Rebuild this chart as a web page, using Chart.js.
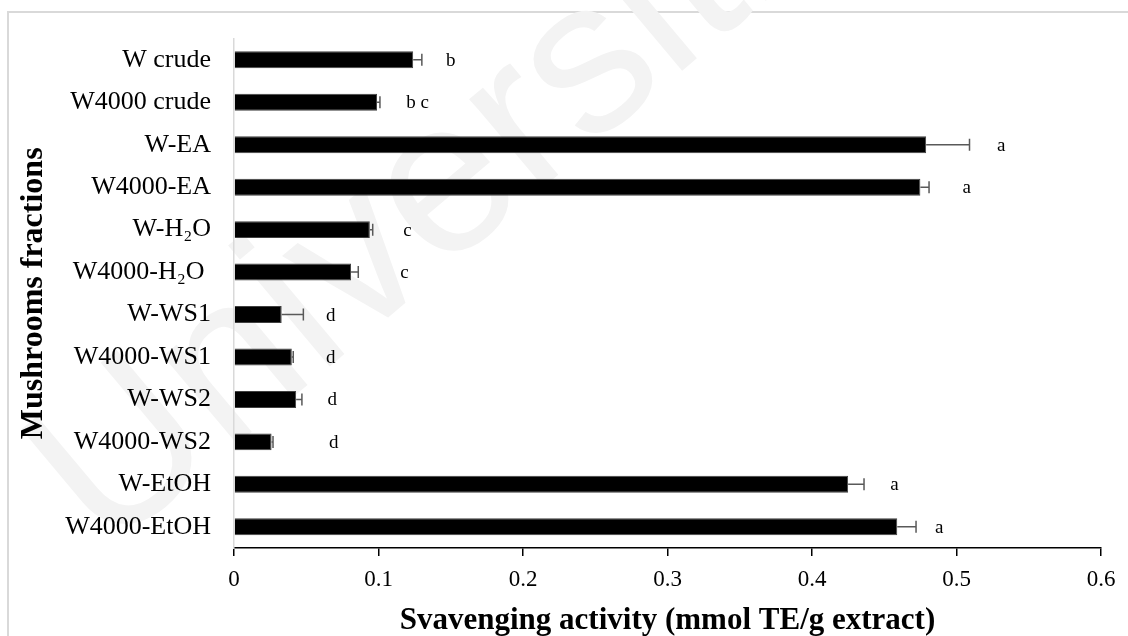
<!DOCTYPE html>
<html>
<head>
<meta charset="utf-8">
<script src="https://cdn.jsdelivr.net/npm/chart.js@4.4.1/dist/chart.umd.min.js"></script>
<style>
  html, body { margin: 0; padding: 0; background: #ffffff; }
  canvas { display: block; }
</style>
</head>
<body>
<canvas id="chart" width="1128" height="636"></canvas>
<script>
// Fractions, in the order they are listed on the vertical axis
const fractions = ['W crude', 'W4000 crude', 'W-EA', 'W4000-EA', 'W-H\u2082O', 'W4000-H\u2082O ',
                   'W-WS1', 'W4000-WS1', 'W-WS2', 'W4000-WS2', 'W-EtOH', 'W4000-EtOH'];
// Scavenging activity, mmol TE/g extract
const activity = [0.124, 0.099, 0.479, 0.475, 0.094, 0.081, 0.033, 0.040, 0.043, 0.026, 0.425, 0.459];
// Standard deviation of each mean
const deviation = [0.006, 0.002, 0.030, 0.006, 0.002, 0.005, 0.015, 0.001, 0.004, 0.001, 0.011, 0.013];
// Significance groups
const groups = ['b', 'b c', 'a', 'a', 'c', 'c', 'd', 'd', 'd', 'd', 'a', 'a'];
// Value-axis ticks
const xTicks = [0, 0.1, 0.2, 0.3, 0.4, 0.5, 0.6];

const SERIF = '"Liberation Serif", "Times New Roman", serif';

// Light frame around the figure and the faint background lettering
const framePlugin = {
  id: 'frame',
  beforeDraw(chart) {
    const ctx = chart.ctx;
    ctx.save();
    ctx.fillStyle = '#ffffff';
    ctx.fillRect(0, 0, chart.width, chart.height);
    ctx.strokeStyle = '#d9d9d9';
    ctx.lineWidth = 2;
    ctx.strokeRect(8, 12, chart.width + 40, chart.height + 40);
    ctx.translate(105, 555);
    ctx.rotate(-40 * Math.PI / 180);
    ctx.font = '218px "Liberation Sans", Arial, sans-serif';
    ctx.fillStyle = '#f3f3f3';
    ctx.textBaseline = 'alphabetic';
    ctx.fillText('Universiti', 0, 0);
    ctx.restore();
  }
};

// Positive error bars with caps, and the group letters beside each bar
const errorPlugin = {
  id: 'errorBars',
  afterDatasetsDraw(chart, args, opts) {
    const ctx = chart.ctx;
    const xs = chart.scales.x;
    const meta = chart.getDatasetMeta(0);
    ctx.save();
    meta.data.forEach((bar, i) => {
      const x0 = xs.getPixelForValue(activity[i]);
      const x1 = xs.getPixelForValue(activity[i] + deviation[i]);
      ctx.strokeStyle = '#595959';
      ctx.lineWidth = 1.5;
      ctx.beginPath();
      ctx.moveTo(x0, bar.y);
      ctx.lineTo(x1, bar.y);
      ctx.moveTo(x1, bar.y - 6);
      ctx.lineTo(x1, bar.y + 6);
      ctx.stroke();

      const lx = xs.getPixelForValue(opts.letterAt[i]);
      ctx.fillStyle = '#000000';
      ctx.font = '19px ' + SERIF;
      ctx.textAlign = 'center';
      ctx.textBaseline = 'middle';
      ctx.fillText(groups[i], lx, bar.y + 1);
    });
    ctx.restore();
  }
};

new Chart(document.getElementById('chart'), {
  type: 'bar',
  data: {
    labels: fractions,
    datasets: [{
      data: activity,
      backgroundColor: '#000000',
      borderColor: '#404040',
      borderWidth: 1,
      barPercentage: 0.4,
      categoryPercentage: 1.0
    }]
  },
  options: {
    indexAxis: 'y',
    responsive: false,
    animation: false,
    layout: { padding: { left: 0, top: 33, right: 27, bottom: 0 } },
    plugins: {
      legend: { display: false },
      tooltip: { enabled: false },
      errorBars: {
        letterAt: [0.150, 0.127, 0.531, 0.507, 0.120, 0.118, 0.067, 0.067, 0.068, 0.069, 0.457, 0.488]
      }
    },
    scales: {
      x: {
        min: 0,
        max: 0.6,
        afterBuildTicks(scale) { scale.ticks = xTicks.map(v => ({ value: v })); },
        afterFit(scale) { scale.height = 88; },
        ticks: {
          color: '#000000',
          padding: 10,
          font: { family: SERIF, size: 23 }
        },
        grid: {
          display: true,
          drawOnChartArea: false,
          drawTicks: true,
          tickLength: 8,
          color: '#000000',
          lineWidth: 1.5
        },
        border: { display: true, color: '#000000', width: 1.5 },
        title: {
          display: true,
          text: 'Svavenging activity (mmol TE/g extract)',
          color: '#000000',
          font: { family: SERIF, size: 31, weight: 'bold', lineHeight: 1 },
          padding: { top: 0, bottom: 0 }
        }
      },
      y: {
        afterFit(scale) { scale.width = 234; },
        ticks: {
          color: '#000000',
          padding: 23,
          font: { family: SERIF, size: 26 }
        },
        grid: { display: false, drawTicks: false },
        border: { display: true, color: '#d9d9d9', width: 1.5 },
        title: {
          display: true,
          text: 'Mushrooms fractions',
          color: '#000000',
          font: { family: SERIF, size: 32, weight: 'bold', lineHeight: 1.2 },
          padding: { top: 15, bottom: 0 }
        }
      }
    }
  },
  plugins: [framePlugin, errorPlugin]
});
</script>
</body>
</html>
